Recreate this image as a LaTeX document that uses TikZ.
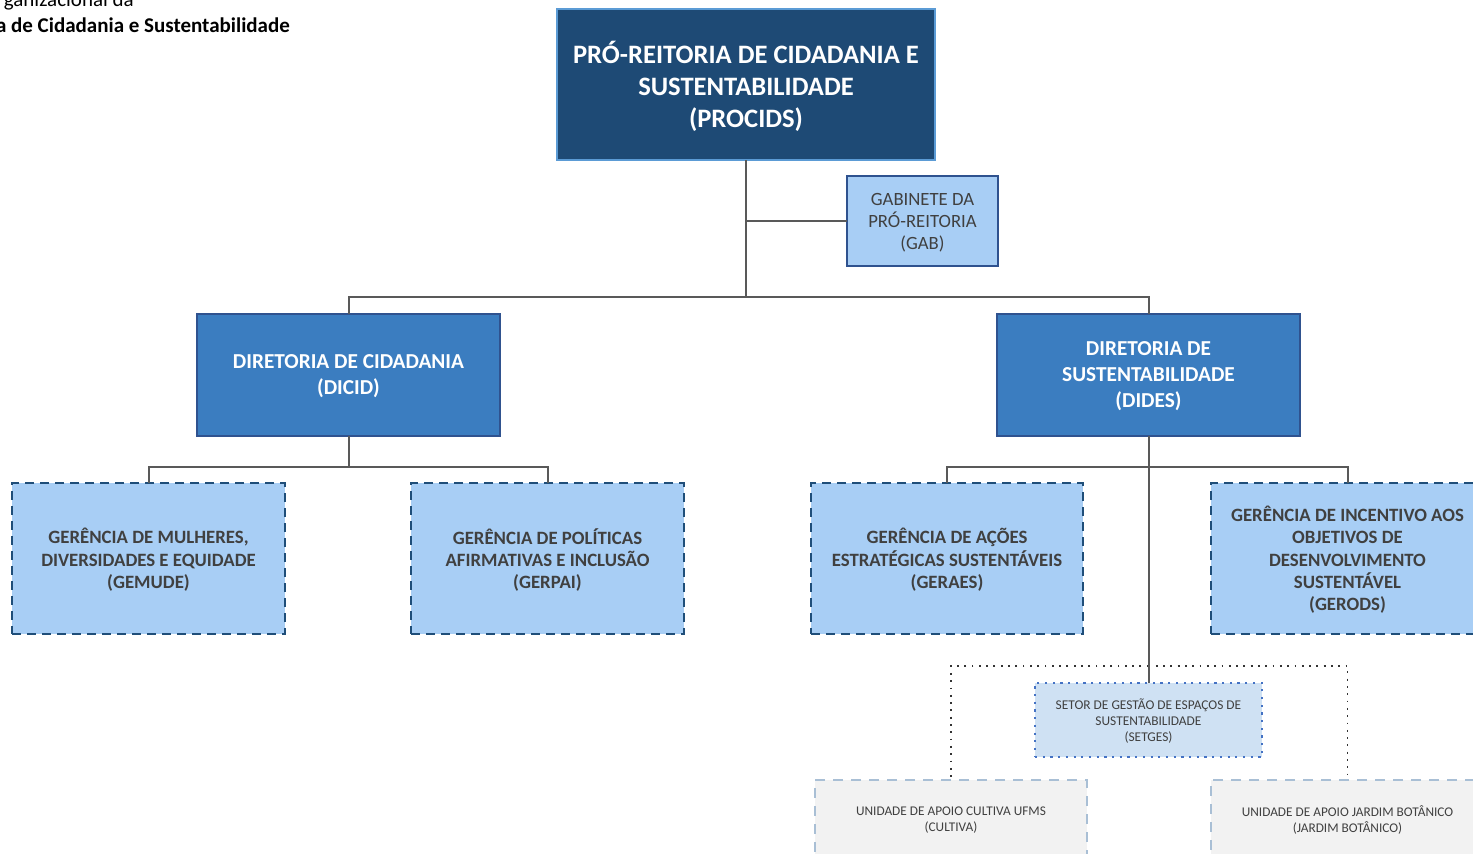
\documentclass[tikz,border=0pt]{standalone}
\usepackage{fontspec}
\setmainfont{Carlito}
\definecolor{navy}{HTML}{1E4A75}
\definecolor{navyedge}{HTML}{5B9BD5}
\definecolor{midblue}{HTML}{3B7DC0}
\definecolor{midedge}{HTML}{2F528F}
\definecolor{lightblue}{HTML}{A8CEF5}
\definecolor{dashedge}{HTML}{1F4E79}
\definecolor{paleblue}{HTML}{CFE1F3}
\definecolor{dotedge}{HTML}{4472C4}
\definecolor{unitfill}{HTML}{F2F2F2}
\definecolor{unitedge}{HTML}{A9BFD5}
\definecolor{txtgray}{HTML}{404040}
\definecolor{linegray}{HTML}{595959}
\tikzset{
  base/.style={rectangle, align=center, inner sep=0pt, outer sep=0pt, text depth=0pt},
  topbox/.style={base, fill=navy, draw=navyedge, line width=2.5pt, text=white,
    font=\fontsize{26.6}{32}\selectfont\bfseries},
  dirbox/.style={base, fill=midblue, draw=midedge, line width=2.2pt, text=white,
    font=\fontsize{21.3}{26}\selectfont\bfseries},
  gabbox/.style={base, fill=lightblue, draw=midedge, line width=2.2pt, text=txtgray,
    font=\fontsize{18.7}{22}\selectfont},
  gerbox/.style={base, fill=lightblue, draw=dashedge, line width=2.6pt, text=txtgray,
    dash pattern=on 9pt off 6pt, font=\fontsize{18.8}{22.3}\selectfont\bfseries},
  setbox/.style={base, fill=paleblue, draw=dotedge, line width=2.2pt, text=txtgray,
    dash pattern=on 2.2pt off 5.5pt, font=\fontsize{13.4}{16}\selectfont},
  unitbox/.style={base, fill=unitfill, draw=unitedge, line width=2pt, text=txtgray,
    dash pattern=on 10pt off 8pt, font=\fontsize{13.3}{16}\selectfont},
  conn/.style={draw=linegray, line width=2pt},
  dotconn/.style={draw=black!80, line width=1.8pt, dash pattern=on 1.8pt off 5.5pt},
  titletext/.style={inner sep=0pt, anchor=east, text=black}
}
\begin{document}
\begin{tikzpicture}[x=1pt, y=-1pt]
\useasboundingbox (0,0) rectangle (1473,854);
\clip (0,0) rectangle (1473,854);
\fill[white] (0,0) rectangle (1473,854);

% title (cut off at the left, as in the reference)
\node[titletext, font=\fontsize{21}{24}\selectfont] (t1) at (134,1.5) {ganizacional da};
\node[titletext, font=\fontsize{21}{24}\selectfont\bfseries] (t2) at (290,25) {a de Cidadania e Sustentabilidade};

% junction coordinates
\coordinate (hub) at (746,297);
\coordinate (dh) at (348.5,467);
\coordinate (eh) at (1148.5,467);
\coordinate (sh) at (1148.5,666);

% nodes
\node[topbox, minimum width=378pt, minimum height=151pt] (procids) at (746,84.5)
  {PRÓ-REITORIA DE CIDADANIA E\\SUSTENTABILIDADE\\(PROCIDS)};
\node[gabbox, minimum width=151pt, minimum height=90pt] (gab) at (922.5,221)
  {GABINETE DA\\PRÓ-REITORIA\\(GAB)};
\node[dirbox, minimum width=303pt, minimum height=122pt] (dicid) at (348.5,375)
  {DIRETORIA DE CIDADANIA\\(DICID)};
\node[dirbox, minimum width=303pt, minimum height=122pt] (dides) at (1148.5,375)
  {DIRETORIA DE\\SUSTENTABILIDADE\\(DIDES)};

% connectors (drawn before lower boxes)
\draw[conn] (procids.south) -- (hub);
\draw[conn] (procids.south |- gab.west) -- (gab.west);
\draw[conn] (dicid.north) -- (dicid.north |- hub) -- (dides.north |- hub) -- (dides.north);
\draw[conn] (dicid.south) -- (dh);

\node[gerbox, minimum width=273pt, minimum height=151pt] (gemude) at (148.5,558.5)
  {GERÊNCIA DE MULHERES,\\DIVERSIDADES E EQUIDADE\\(GEMUDE)};
\node[gerbox, minimum width=273pt, minimum height=151pt] (gerpai) at (547.5,558.5)
  {GERÊNCIA DE POLÍTICAS\\AFIRMATIVAS E INCLUSÃO\\(GERPAI)};
\node[gerbox, minimum width=272pt, minimum height=151pt] (geraes) at (947,558.5)
  {GERÊNCIA DE AÇÕES\\ESTRATÉGICAS SUSTENTÁVEIS\\(GERAES)};
\node[gerbox, minimum width=273pt, minimum height=151pt] (gerods) at (1347.5,558.5)
  {GERÊNCIA DE INCENTIVO AOS\\OBJETIVOS DE\\DESENVOLVIMENTO\\SUSTENTÁVEL\\(GERODS)};
\node[unitbox, minimum width=272pt, minimum height=78pt] (cultiva) at (951,819)
  {UNIDADE DE APOIO CULTIVA UFMS\\(CULTIVA)};
\node[unitbox, minimum width=273pt, minimum height=78pt] (jardim) at (1347.5,819)
  {UNIDADE DE APOIO JARDIM BOTÂNICO\\(JARDIM BOTÂNICO)};

\draw[dotconn] (sh) -- (cultiva.north |- sh) -- (cultiva.north);
\draw[dotconn] (sh) -- (jardim.north |- sh) -- (jardim.north);

\node[setbox, minimum width=227pt, minimum height=74pt] (setges) at (1148.5,720)
  {SETOR DE GESTÃO DE ESPAÇOS DE\\SUSTENTABILIDADE\\(SETGES)};

\draw[conn] (gemude.north) -- (gemude.north |- dh) -- (gerpai.north |- dh) -- (gerpai.north);
\draw[conn] (geraes.north) -- (geraes.north |- eh) -- (gerods.north |- eh) -- (gerods.north);
\draw[conn] (dides.south) -- (setges.north);
\end{tikzpicture}
\end{document}
